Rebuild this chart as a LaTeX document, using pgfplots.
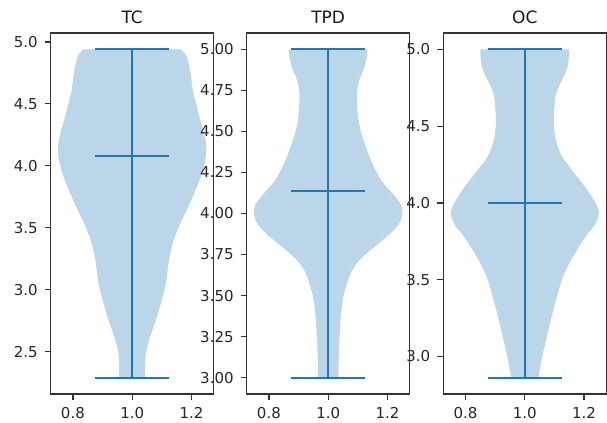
\documentclass[border=0pt]{standalone}
\usepackage{pgfplots}
\pgfplotsset{compat=1.18}
\usepgfplotslibrary{fillbetween}
\usepackage{pgfplotstable}
\usepackage{fontspec}
\setmainfont{DejaVu Sans}
\definecolor{c0}{HTML}{1F77B4}
\definecolor{vfill}{RGB}{188,214,233}

% half-width profile of each violin (y, half width)
\pgfplotstableread{
y w
4.94 0.165
4.90 0.180
4.85 0.188
4.75 0.197
4.60 0.205
4.50 0.216
4.40 0.226
4.30 0.238
4.20 0.248
4.12 0.250
4.05 0.247
3.95 0.237
3.85 0.222
3.70 0.195
3.55 0.165
3.40 0.140
3.25 0.125
3.07 0.115
3.00 0.109
2.90 0.098
2.80 0.086
2.70 0.072
2.60 0.058
2.50 0.047
2.40 0.044
2.29 0.044
}\tcdata

\pgfplotstableread{
y w
5.00 0.133
4.95 0.130
4.90 0.124
4.85 0.113
4.80 0.103
4.75 0.098
4.70 0.097
4.60 0.100
4.50 0.110
4.40 0.128
4.30 0.150
4.20 0.180
4.12 0.218
4.05 0.247
4.00 0.250
3.95 0.243
3.90 0.222
3.85 0.192
3.80 0.158
3.75 0.125
3.70 0.098
3.65 0.080
3.60 0.068
3.50 0.052
3.40 0.044
3.30 0.040
3.20 0.037
3.10 0.035
3.00 0.034
}\tpddata

\pgfplotstableread{
y w
5.00 0.150
4.95 0.149
4.90 0.146
4.85 0.138
4.80 0.125
4.75 0.113
4.70 0.104
4.60 0.099
4.50 0.098
4.40 0.106
4.30 0.126
4.20 0.165
4.10 0.205
4.00 0.238
3.93 0.250
3.85 0.234
3.80 0.212
3.70 0.178
3.60 0.148
3.50 0.125
3.40 0.110
3.30 0.096
3.20 0.083
3.10 0.071
3.00 0.059
2.93 0.052
2.863 0.046
}\ocdata

\pgfplotsset{vstyle/.style={
  scale only axis, width=81.5pt, height=180.5pt,
  xmin=0.725, xmax=1.275,
  xtick={0.8,1.0,1.2},
  xticklabel style={/pgf/number format/fixed, /pgf/number format/fixed zerofill, /pgf/number format/precision=1},
  xtick pos=bottom, ytick pos=left,
  tick align=outside, major tick length=3pt,
  tick style={black!80, line width=0.6pt},
  axis line style={black!80, line width=0.6pt},
  tick label style={font=\fontsize{7.5}{8}\selectfont, text=black!85},
  /pgf/number format/assume math mode=true,
  yticklabel style={/pgf/number format/fixed, /pgf/number format/fixed zerofill},
  every axis title shift=0pt,
  title style={font=\fontsize{8.5}{10}\selectfont, text=black!90, at={(0.5,1)}, anchor=base, yshift=4.9pt},
  axis on top,
}}

\begin{document}
\begin{tikzpicture}

\begin{axis}[vstyle, at={(25.35pt,14.5pt)}, anchor=south west,
  ymin=2.1575, ymax=5.0725, ytick={2.5,3.0,3.5,4.0,4.5,5.0},
  yticklabel style={/pgf/number format/precision=1}, title={TC}]
\addplot[name path=R, draw=none, smooth] table[x expr=1+\thisrow{w}, y=y] {\tcdata};
\addplot[name path=L, draw=none, smooth] table[x expr=1-\thisrow{w}, y=y] {\tcdata};
\addplot[fill=vfill, draw=none] fill between[of=R and L, reverse=true];
\addplot[c0, line width=1pt] coordinates {(1,2.29) (1,4.94)};
\addplot[c0, line width=1pt] coordinates {(0.875,4.94) (1.125,4.94)};
\addplot[c0, line width=1pt] coordinates {(0.875,2.29) (1.125,2.29)};
\addplot[c0, line width=1pt] coordinates {(0.875,4.08) (1.125,4.08)};
\end{axis}

\begin{axis}[vstyle, at={(123.35pt,14.5pt)}, anchor=south west,
  ymin=2.9, ymax=5.1, ytick={3.0,3.25,3.5,3.75,4.0,4.25,4.5,4.75,5.0},
  yticklabel style={/pgf/number format/precision=2}, title={TPD}]
\addplot[name path=R, draw=none, smooth] table[x expr=1+\thisrow{w}, y=y] {\tpddata};
\addplot[name path=L, draw=none, smooth] table[x expr=1-\thisrow{w}, y=y] {\tpddata};
\addplot[fill=vfill, draw=none] fill between[of=R and L, reverse=true];
\addplot[c0, line width=1pt] coordinates {(1,3.0) (1,5.0)};
\addplot[c0, line width=1pt] coordinates {(0.875,5.0) (1.125,5.0)};
\addplot[c0, line width=1pt] coordinates {(0.875,3.0) (1.125,3.0)};
\addplot[c0, line width=1pt] coordinates {(0.875,4.14) (1.125,4.14)};
\end{axis}

\begin{axis}[vstyle, at={(221.65pt,14.5pt)}, anchor=south west,
  ymin=2.756, ymax=5.107, ytick={3.0,3.5,4.0,4.5,5.0},
  yticklabel style={/pgf/number format/precision=1}, title={OC}]
\addplot[name path=R, draw=none, smooth] table[x expr=1+\thisrow{w}, y=y] {\ocdata};
\addplot[name path=L, draw=none, smooth] table[x expr=1-\thisrow{w}, y=y] {\ocdata};
\addplot[fill=vfill, draw=none] fill between[of=R and L, reverse=true];
\addplot[c0, line width=1pt] coordinates {(1,2.863) (1,5.0)};
\addplot[c0, line width=1pt] coordinates {(0.875,5.0) (1.125,5.0)};
\addplot[c0, line width=1pt] coordinates {(0.875,2.863) (1.125,2.863)};
\addplot[c0, line width=1pt] coordinates {(0.875,4.0) (1.125,4.0)};
\end{axis}

\pgfresetboundingbox
\path[use as bounding box] (0,0) rectangle (303.5pt,211.5pt);
\end{tikzpicture}
\end{document}
